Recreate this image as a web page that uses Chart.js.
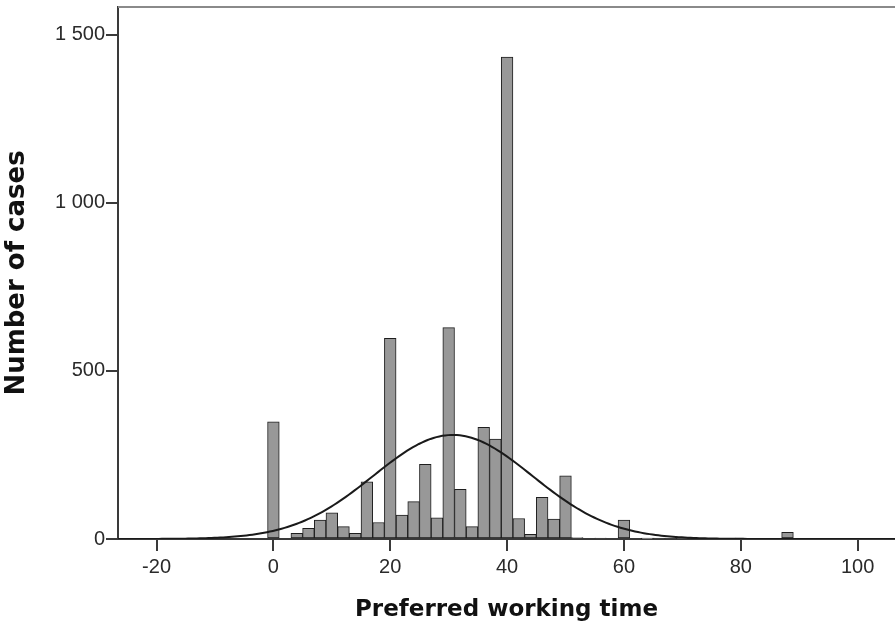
<!DOCTYPE html>
<html>
<head>
<meta charset="utf-8">
<title>Preferred working time</title>
<script src="https://cdn.jsdelivr.net/npm/chart.js@4.4.1/dist/chart.umd.min.js"></script>
<style>
  html, body { margin: 0; padding: 0; background: #fff; }
  #chart { display: block; }
</style>
</head>
<body>
<canvas id="chart" width="895" height="630"></canvas>
<script>
// histogram bins (centre of each 2-hour bin) and the number of cases in it
const binCenters = [
  0, 2, 4, 6, 8, 10, 12, 14, 16, 18,
  20, 22, 24, 26, 28, 30, 32, 34, 36, 38,
  40, 42, 44, 46, 48, 50, 52, 54, 56, 58,
  60, 62, 64, 66, 68, 70, 72, 74, 76, 78,
  80, 82, 84, 86, 88
];
const cases = [
  349, 0, 17, 32, 56, 78, 37, 17, 170, 49,
  597, 71, 111, 222, 63, 629, 148, 37, 332, 297,
  1434, 61, 14, 124, 59, 188, 4, 0, 3, 0,
  56, 0, 1, 3, 3, 2, 0, 0, 0, 0,
  2, 0, 0, 0, 20
];
const binWidth = 2;

const xTicks = [-20, 0, 20, 40, 60, 80, 100];
const yTicks = [0, 500, 1000, 1500];
const xRange = [-26.6, 106.4];
const yRange = [0, 1583];

// normal curve fitted to the histogram (same n, mean and sd)
const total = cases.reduce((a, b) => a + b, 0);
const mean = binCenters.reduce((s, x, i) => s + x * cases[i], 0) / total;
const sd = Math.sqrt(binCenters.reduce((s, x, i) => s + (x - mean) ** 2 * cases[i], 0) / total);
const normalCurve = [];
for (let x = xRange[0]; x <= xRange[1]; x += 0.5) {
  const z = (x - mean) / sd;
  normalCurve.push({ x: x, y: total * binWidth * Math.exp(-0.5 * z * z) / (sd * Math.sqrt(2 * Math.PI)) });
}

const tickFont = { family: "'Liberation Sans', Arial, sans-serif", size: 20 };
const titleFont = { family: "'DejaVu Sans', Verdana, sans-serif", weight: 'bold' };
const axisColor = '#3a3a3a';

// no extra room for the end labels: the plot fills the canvas up to the frame
function noPadding(s) {
  s.paddingTop = 0;
  s.paddingBottom = 0;
  s.paddingLeft = 0;
  s.paddingRight = 0;
}

// thin frame line along the top of the plot area
const topFrame = {
  id: 'topFrame',
  afterDraw(chart) {
    const a = chart.chartArea;
    const c = chart.ctx;
    c.save();
    c.strokeStyle = '#8a8a8a';
    c.lineWidth = 2;
    c.beginPath();
    c.moveTo(a.left, a.top);
    c.lineTo(a.right, a.top);
    c.stroke();
    c.restore();
  }
};

const config = {
  type: 'bar',
  data: {
    datasets: [{
      type: 'line',
      data: normalCurve,
      borderColor: '#1a1a1a',
      borderWidth: 2,
      pointRadius: 0,
      fill: false,
      tension: 0,
      order: 0
    }, {
      type: 'bar',
      data: binCenters.map((x, i) => ({ x: x, y: cases[i] })),
      backgroundColor: '#989898',
      borderColor: '#1e1e1e',
      borderWidth: 1,
      borderSkipped: false,
      barPercentage: 1,
      categoryPercentage: 1,
      order: 1
    }]
  },
  options: {
    responsive: false,
    animation: false,
    layout: { padding: { top: 7, right: 0, left: 0, bottom: 0 } },
    plugins: {
      legend: { display: false },
      tooltip: { enabled: false }
    },
    scales: {
      x: {
        type: 'linear',
        min: xRange[0],
        max: xRange[1],
        offset: false,
        afterBuildTicks: s => { s.ticks = xTicks.map(v => ({ value: v })); },
        afterFit: s => { s.height = 91; noPadding(s); },
        ticks: { font: tickFont, color: '#2a2a2a', padding: 4, maxRotation: 0, autoSkip: false },
        grid: { drawOnChartArea: false, offset: false, tickLength: 12, color: axisColor, lineWidth: 2 },
        border: { color: axisColor, width: 2 },
        title: {
          display: true,
          text: 'Preferred working time',
          font: Object.assign({ size: 23 }, titleFont),
          color: '#111',
          padding: { top: 0, bottom: 6 }
        }
      },
      y: {
        min: yRange[0],
        max: yRange[1],
        afterBuildTicks: s => { s.ticks = yTicks.map(v => ({ value: v })); },
        afterFit: s => { s.width = 118; noPadding(s); },
        ticks: {
          font: tickFont,
          color: '#2a2a2a',
          padding: 1,
          callback: v => String(v).replace(/\B(?=(\d{3})+(?!\d))/g, ' ')
        },
        grid: { drawOnChartArea: false, tickLength: 12, color: axisColor, lineWidth: 2 },
        border: { color: axisColor, width: 2 },
        title: {
          display: true,
          text: 'Number of cases',
          font: Object.assign({ size: 26 }, titleFont),
          color: '#111',
          padding: { top: 2, bottom: 0 }
        }
      }
    }
  },
  plugins: [topFrame]
};

const myChart = new Chart(document.getElementById('chart'), config);
</script>
</body>
</html>
